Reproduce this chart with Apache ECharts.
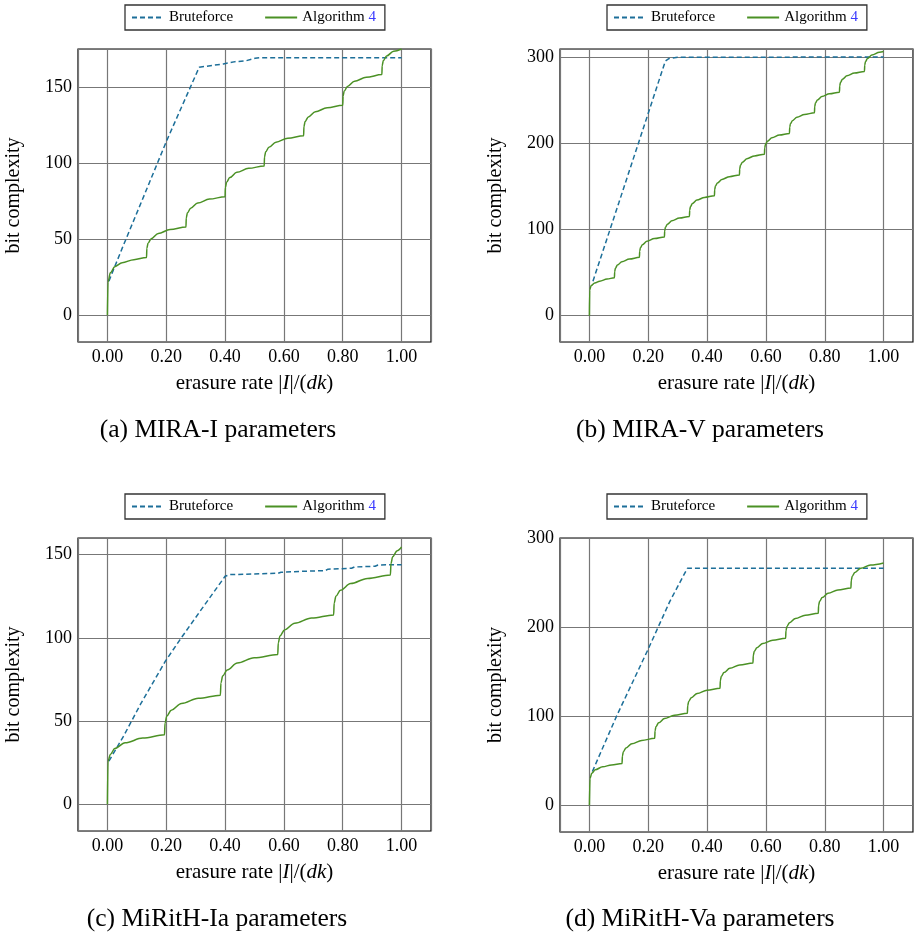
<!DOCTYPE html>
<html>
<head>
<meta charset="utf-8">
<script src="https://cdn.jsdelivr.net/npm/echarts@6/dist/echarts.min.js"></script>
<style>
html,body{margin:0;padding:0;background:#fff;}
#chart{width:914px;height:933px;}
</style>
</head>
<body>
<div id="chart"></div>
<script>
// ---------- data (x = erasure rate, y = bit complexity) ----------
const seriesNames = ['Bruteforce', 'Algorithm 4'];
const captions = ['(a) MIRA-I parameters', '(b) MIRA-V parameters', '(c) MiRitH-Ia parameters', '(d) MiRitH-Va parameters'];

const miraI_brute = [[0.005,22.5],[0.05,44],[0.123,78],[0.202,115],[0.312,163],[0.394,165.2],[0.434,166.7],[0.47,167.2],[0.502,168.9],[0.52,169.3],[1.0,169.3]];
const miraI_alg = [[0,0],[0.002,22],[0.01,28],[0.025,32],[0.05,34.6],[0.09,36.6],[0.133,38],
[0.134,44],[0.138,47.4],[0.149,50.4],[0.173,53.8],[0.213,56.4],[0.267,58],
[0.268,64],[0.272,67.4],[0.283,70.4],[0.307,73.8],[0.347,76.4],[0.4,78],
[0.401,84],[0.405,87.5],[0.416,90.5],[0.44,94],[0.48,96.6],[0.533,98.2],
[0.534,104.1],[0.538,107.5],[0.549,110.5],[0.573,113.8],[0.613,116.4],[0.667,118],
[0.668,124],[0.672,127.4],[0.683,130.4],[0.707,133.8],[0.747,136.4],[0.8,138],
[0.801,144],[0.805,147.4],[0.816,150.4],[0.84,153.8],[0.88,156.4],[0.933,158.2],
[0.934,164],[0.938,167.4],[0.949,170.4],[0.973,173.5],[1.0,175]];

const miraV_brute = [[0.012,40],[0.1,131],[0.2,235],[0.258,295.5],[0.27,298.5],[0.3,300],[1.0,300.3]];
const miraV_alg = [[0,0],[0.001,30],[0.006,35],[0.018,38],[0.035,40],[0.06,42.5],[0.085,44],
[0.0859,51.1],[0.0884,55.1],[0.0952,58.7],[0.1105,62.7],[0.136,65.8],[0.17,67.7],
[0.1709,74.8],[0.1734,78.8],[0.1802,82.4],[0.1955,86.4],[0.221,89.5],[0.255,91.4],
[0.2559,98.5],[0.2584,102.6],[0.2652,106.2],[0.2805,110.2],[0.306,113.3],[0.34,115.2],
[0.3409,122.4],[0.3434,126.5],[0.3502,130.1],[0.3655,134.2],[0.391,137.3],[0.425,139.2],
[0.4259,146.4],[0.4284,150.5],[0.4352,154.1],[0.4505,158.2],[0.476,161.4],[0.51,163.3],
[0.5109,170.5],[0.5134,174.6],[0.5202,178.2],[0.5355,182.3],[0.561,185.5],[0.595,187.4],
[0.5959,194.7],[0.5984,198.8],[0.6052,202.4],[0.6205,206.5],[0.646,209.7],[0.68,211.6],
[0.6809,218.8],[0.6834,222.8],[0.6902,226.4],[0.7055,230.5],[0.731,233.6],[0.765,235.5],
[0.7659,242.7],[0.7684,246.8],[0.7752,250.4],[0.7905,254.5],[0.816,257.6],[0.85,259.5],
[0.8509,266.7],[0.8534,270.8],[0.8602,274.4],[0.8755,278.5],[0.901,281.7],[0.935,283.6],
[0.9359,290.8],[0.9384,294.9],[0.9452,298.5],[0.9605,302.6],[0.986,305.7],[1.0,306.6]];

const mirithIa_brute = [[0.005,26],[0.055,41],[0.112,60],[0.197,86],[0.247,99],[0.315,116],[0.4,137],[0.417,138],[0.58,138.8],[0.59,139.4],[0.66,140],[0.74,140.4],[0.75,141.3],[0.83,141.8],[0.84,142.6],[0.91,143],[0.92,143.8],[1.0,144]];
const mirithIa_alg = [[0,0],[0.002,26],[0.01,30],[0.025,33.5],[0.06,37],[0.12,39.8],[0.194,41.8],
[0.1959,48.9],[0.2017,53],[0.217,56.6],[0.2516,60.6],[0.309,63.7],[0.384,65.6],
[0.3859,72.9],[0.3917,77.1],[0.407,80.7],[0.4416,84.9],[0.499,88],[0.579,90],
[0.5809,97.1],[0.5867,101.2],[0.602,104.8],[0.6366,108.8],[0.694,111.9],[0.769,113.8],
[0.7709,120.9],[0.7767,125],[0.792,128.6],[0.8266,132.6],[0.884,135.7],[0.962,137.8],
[0.9639,144.7],[0.9697,148.8],[0.985,152.4],[1.0,154.6]];

const mirithVa_brute = [[0.01,38],[0.092,100],[0.199,175],[0.273,229],[0.333,266.5],[1.0,266.5]];
const mirithVa_alg = [[0,0],[0.002,30],[0.008,36],[0.02,40],[0.045,43.3],[0.075,45.4],[0.111,47],
[0.1121,55.5],[0.1154,60.3],[0.1243,64.5],[0.1443,69.3],[0.1777,72.9],[0.222,75.3],
[0.2231,83.8],[0.2264,88.6],[0.2353,92.8],[0.2553,97.6],[0.2887,101.2],[0.333,103.5],
[0.3341,112],[0.3374,116.8],[0.3463,121],[0.3663,125.8],[0.3997,129.4],[0.444,131.7],
[0.4451,140.2],[0.4484,145],[0.4573,149.2],[0.4773,154],[0.5107,157.7],[0.556,160],
[0.5571,168.3],[0.5604,173.1],[0.5693,177.2],[0.5893,182],[0.6227,185.6],[0.667,187.8],
[0.6681,196.3],[0.6714,201.1],[0.6803,205.3],[0.7003,210.1],[0.7337,213.7],[0.778,216],
[0.7791,224.5],[0.7824,229.3],[0.7913,233.5],[0.8113,238.3],[0.8447,242],[0.889,244.3],
[0.8901,252.8],[0.8934,257.6],[0.9023,261.8],[0.9223,266.6],[0.9557,270.2],[1.0,272.5]];

const yRanges = [[-17.5,175,50],[-30.6,309.6,100],[-16,160,50],[-30,300.5,100]];

// ---------- layout / styles ----------
const FONT = '"Liberation Serif", "DejaVu Serif", serif';
const BLUE = '#1d6f99';
const GREEN = '#4b9125';
const GRIDC = '#777777';
const panels = [
  {left:78, top:49, w:353, h:293, brute:miraI_brute, alg:miraI_alg, legL:125, legT:5, capX:218, capY:430},
  {left:560, top:49, w:353, h:293, brute:miraV_brute, alg:miraV_alg, legL:607, legT:5, capX:700, capY:430},
  {left:78, top:538, w:353, h:293, brute:mirithIa_brute, alg:mirithIa_alg, legL:125, legT:494, capX:217, capY:919},
  {left:560, top:538, w:353, h:294, brute:mirithVa_brute, alg:mirithVa_alg, legL:607, legT:494, capX:700, capY:919}
];

const grid = [], xAxis = [], yAxis = [], series = [], legend = [], graphic = [];
panels.forEach((p, i) => {
  grid.push({left:p.left, top:p.top, width:p.w, height:p.h, show:true, borderColor:'#000', borderWidth:1.2, backgroundColor:'transparent', containLabel:false, outerBoundsMode:'none'});
  xAxis.push({
    type:'value', gridIndex:i, min:-0.1, max:1.1, minInterval:0.2, maxInterval:0.2,
    axisLine:{show:false}, axisTick:{show:false},
    splitLine:{show:true, lineStyle:{color:GRIDC, width:1.2}},
    axisLabel:{color:'#000', fontFamily:FONT, fontSize:18, margin:6, showMinLabel:false, showMaxLabel:false,
      formatter:v => v.toFixed(2)},
    name:'{r|erasure rate |}{i|I}{r||/(}{i|dk}{r|)}', nameLocation:'middle', nameGap:31,
    nameTextStyle:{color:'#000', fontFamily:FONT, fontSize:21,
      rich:{r:{fontFamily:FONT, fontSize:21, color:'#000'}, i:{fontFamily:FONT, fontSize:21, fontStyle:'italic', color:'#000'}}}
  });
  const yr = yRanges[i];
  yAxis.push({
    type:'value', gridIndex:i, min:yr[0], max:yr[1], minInterval:yr[2], maxInterval:yr[2],
    axisLine:{show:false}, axisTick:{show:false},
    splitLine:{show:true, lineStyle:{color:GRIDC, width:1.2}},
    axisLabel:{color:'#000', fontFamily:FONT, fontSize:18, margin:6, showMinLabel:false, showMaxLabel:false},
    name:'bit complexity', nameLocation:'middle', nameGap:54, nameRotate:90,
    nameTextStyle:{color:'#000', fontFamily:FONT, fontSize:20}
  });
  series.push({
    name:seriesNames[0], type:'line', xAxisIndex:i, yAxisIndex:i, data:p.brute,
    showSymbol:false, symbol:'none', smooth:false, animation:false,
    lineStyle:{color:BLUE, width:1.5, type:[5,3]}, itemStyle:{color:BLUE}
  });
  series.push({
    name:seriesNames[1], type:'line', xAxisIndex:i, yAxisIndex:i, data:p.alg,
    showSymbol:false, symbol:'none', smooth:0.35, smoothMonotone:'x', animation:false,
    lineStyle:{color:GREEN, width:1.5}, itemStyle:{color:GREEN}
  });
  legend.push({
    left:p.legL, top:p.legT, orient:'horizontal', data:seriesNames,
    itemWidth:32, itemHeight:14, itemGap:31, padding:[5,9,5,6],
    borderColor:'#333', borderWidth:1.3, backgroundColor:'#fff',
    selectedMode:false,
    itemStyle:{opacity:0},
    textStyle:{fontFamily:FONT, fontSize:15, color:'#000',
      rich:{a:{fontFamily:FONT, fontSize:15, color:'#000'}, b:{fontFamily:FONT, fontSize:15, color:'#3a3aff'}}},
    formatter:n => n === 'Algorithm 4' ? '{a|Algorithm }{b|4}' : '{a|' + n + '}'
  });
  graphic.push({
    type:'text', x:p.capX, y:p.capY,
    style:{text:captions[i], font:'25.5px ' + FONT, fill:'#000', align:'center', verticalAlign:'middle'}
  });
});

const chart = echarts.init(document.getElementById('chart'), null, {renderer:'canvas'});
chart.setOption({
  animation:false,
  backgroundColor:'#fff',
  grid, xAxis, yAxis, series, legend, graphic
});
</script>
</body>
</html>
